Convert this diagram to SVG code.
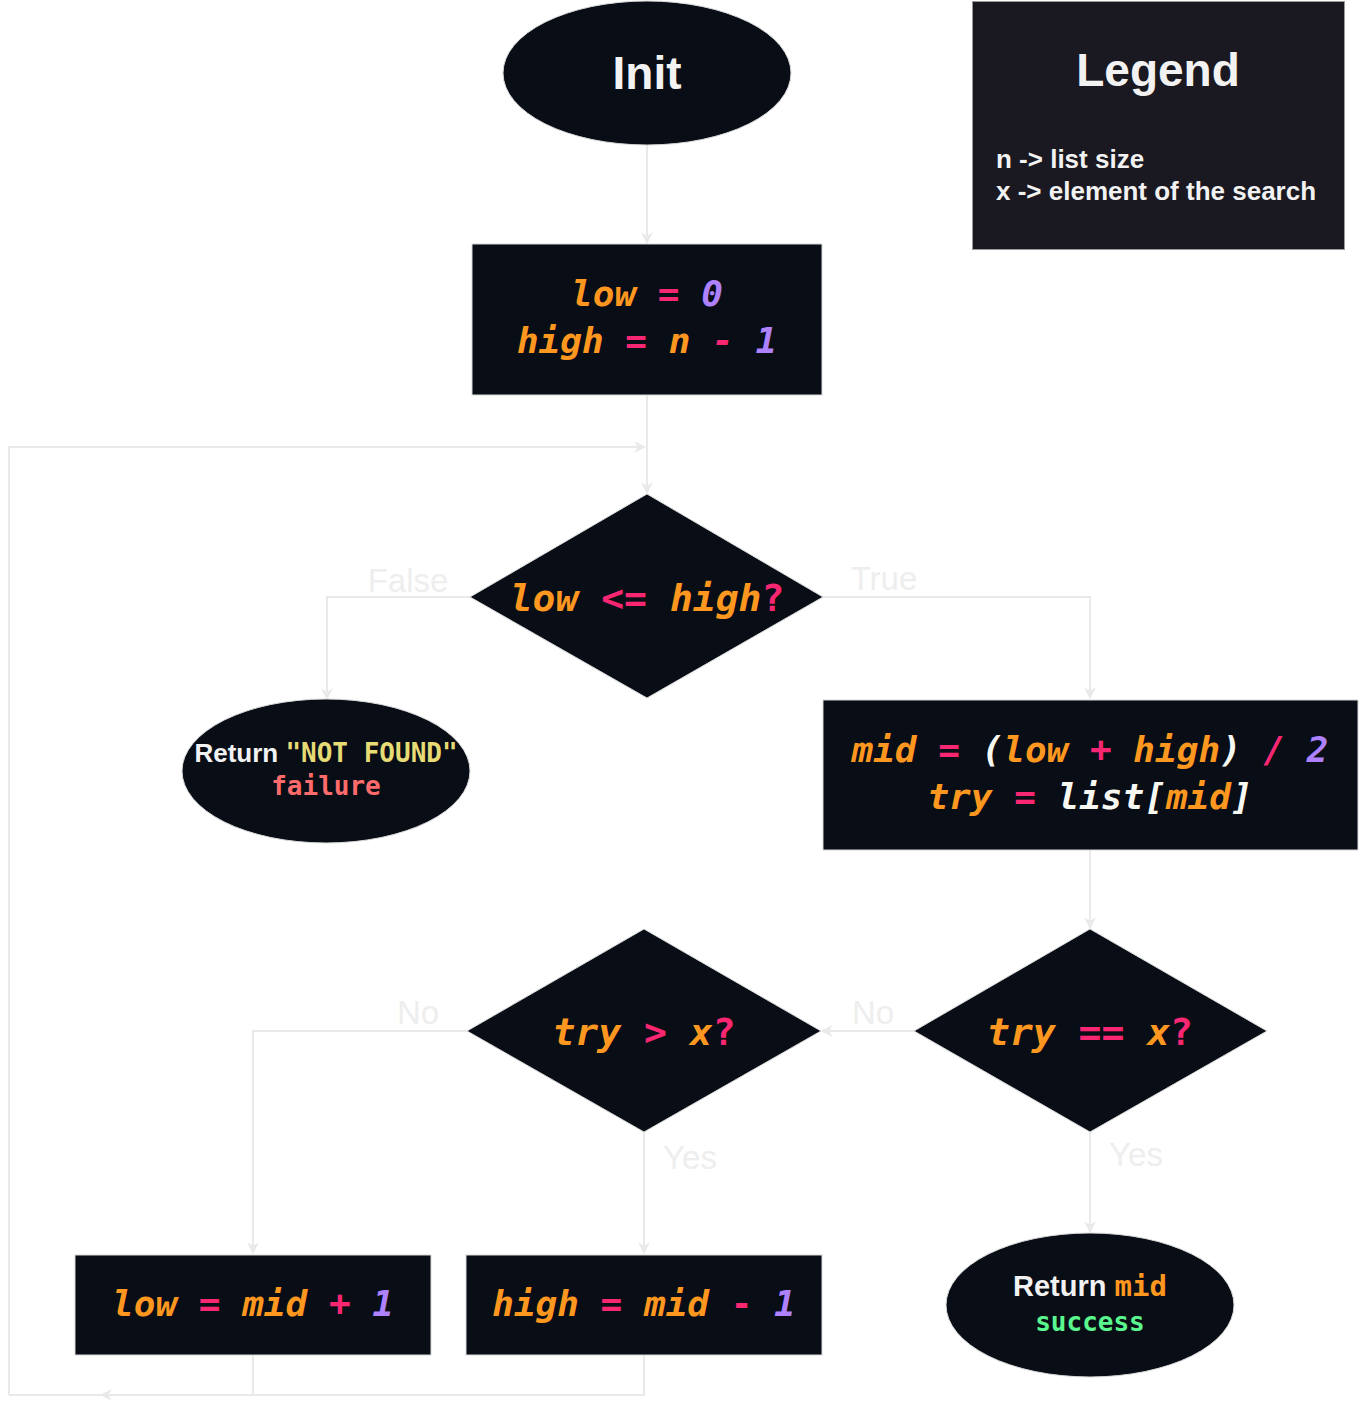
<svg xmlns="http://www.w3.org/2000/svg" width="1360" height="1406" viewBox="0 0 1360 1406">
<style>
.node{fill:#080d16;stroke:#d8d8d8;stroke-width:1}
.code{font-family:"DejaVu Sans Mono",monospace;font-weight:bold;font-style:italic;font-size:36px;text-anchor:middle}
.big{font-size:38px}
.up{font-style:normal}
.mono{font-family:"DejaVu Sans Mono",monospace;font-weight:bold;font-style:normal}
.sans{font-family:"Liberation Sans",Arial,sans-serif;font-weight:bold;fill:#f2f2f2}
.o{fill:#fd971f}.p{fill:#f92672}.v{fill:#ae81ff}.w{fill:#f8f8f2}.y{fill:#e6db74}.r{fill:#ff6b6b}.g{fill:#5af78e}
.edge{fill:none;stroke:#e9e9e9;stroke-width:2}
.lbl{font-family:"Liberation Sans",Arial,sans-serif;font-size:33px;fill:#eeeeee;text-anchor:middle}
</style>
<defs>
<marker id="ah" viewBox="0 0 10 10" refX="9" refY="5" markerWidth="12" markerHeight="12" orient="auto" markerUnits="userSpaceOnUse">
<path d="M0,0 L10,5 L0,10 L3,5 z" fill="#e9e9e9"/>
</marker>
</defs>
<rect width="1360" height="1406" fill="#ffffff"/>
<g id="connectors">
<path class="edge" d="M647,145 V243" marker-end="url(#ah)"/>
<path class="edge" d="M647,395 V493" marker-end="url(#ah)"/>
<path class="edge" d="M9,1395 V447 H645" marker-end="url(#ah)"/>
<path class="edge" d="M470,597 H327 V699" marker-end="url(#ah)"/>
<path class="edge" d="M823,597 H1090 V698" marker-end="url(#ah)"/>
<path class="edge" d="M1090,850 V928" marker-end="url(#ah)"/>
<path class="edge" d="M914,1031 H822" marker-end="url(#ah)"/>
<path class="edge" d="M467,1031 H253 V1253" marker-end="url(#ah)"/>
<path class="edge" d="M644,1132 V1253" marker-end="url(#ah)"/>
<path class="edge" d="M1090,1132 V1232" marker-end="url(#ah)"/>
<path class="edge" d="M253,1355 V1395"/>
<path class="edge" d="M644,1355 V1395 H9"/>
<path class="edge" d="M200,1395 H101" marker-end="url(#ah)"/>
<text class="lbl" x="408" y="592">False</text>
<text class="lbl" x="884" y="590">True</text>
<text class="lbl" x="418" y="1024">No</text>
<text class="lbl" x="873" y="1024">No</text>
<text class="lbl" x="690" y="1169">Yes</text>
<text class="lbl" x="1136" y="1166">Yes</text>
</g>
<g id="init">
<ellipse class="node" cx="647" cy="73" rx="144" ry="72"/>
<text class="sans" x="647" y="89" font-size="46" text-anchor="middle">Init</text>
</g>
<g id="legend">
<rect x="972.5" y="1.5" width="372" height="248" fill="#1a1820" stroke="#999999" stroke-width="1"/>
<text class="sans" x="1158" y="86" font-size="46" text-anchor="middle">Legend</text>
<text class="sans" x="996" y="168" font-size="26">n -&gt; list size</text>
<text class="sans" x="996" y="200" font-size="26">x -&gt; element of the search</text>
</g>
<g id="initvars">
<rect class="node" x="472" y="244" width="350" height="151"/>
<text class="code" x="647" y="306" xml:space="preserve"><tspan class="o">low</tspan> <tspan class="p">=</tspan> <tspan class="v">0</tspan></text>
<text class="code" x="647" y="353" xml:space="preserve"><tspan class="o">high</tspan> <tspan class="p">=</tspan> <tspan class="o">n</tspan> <tspan class="p">-</tspan> <tspan class="v">1</tspan></text>
</g>
<g id="cond">
<polygon class="node" points="647,494 823,597 647,698 470,597"/>
<text class="code big" x="647" y="611" xml:space="preserve"><tspan class="o">low</tspan> <tspan class="p up">&lt;=</tspan> <tspan class="o">high</tspan><tspan class="p up">?</tspan></text>
</g>
<g id="notfound">
<ellipse class="node" cx="326" cy="771" rx="144" ry="72"/>
<text x="326" y="762" text-anchor="middle" xml:space="preserve"><tspan class="sans" font-size="26">Return </tspan><tspan class="mono y" font-size="26">"NOT FOUND"</tspan></text>
<text class="mono r" x="326" y="795" font-size="26" text-anchor="middle">failure</text>
</g>
<g id="midcalc">
<rect class="node" x="823" y="700" width="535" height="150"/>
<text class="code" x="1090" y="762" xml:space="preserve"><tspan class="o">mid</tspan> <tspan class="p up">=</tspan> <tspan class="w">(</tspan><tspan class="o">low</tspan> <tspan class="p up">+</tspan> <tspan class="o">high</tspan><tspan class="w">)</tspan> <tspan class="p">/</tspan> <tspan class="v">2</tspan></text>
<text class="code" x="1090" y="809" xml:space="preserve"><tspan class="o">try</tspan> <tspan class="p up">=</tspan> <tspan class="w">list[</tspan><tspan class="o">mid</tspan><tspan class="w">]</tspan></text>
</g>
<g id="equal">
<polygon class="node" points="1090,929 1267,1031 1090,1132 914,1031"/>
<text class="code big" x="1090" y="1045" xml:space="preserve"><tspan class="o">try</tspan> <tspan class="p up">==</tspan> <tspan class="o">x</tspan><tspan class="p up">?</tspan></text>
</g>
<g id="greater">
<polygon class="node" points="644,929 821,1031 644,1132 467,1031"/>
<text class="code big" x="644" y="1045" xml:space="preserve"><tspan class="o">try</tspan> <tspan class="p up">&gt;</tspan> <tspan class="o">x</tspan><tspan class="p up">?</tspan></text>
</g>
<g id="lowupdate">
<rect class="node" x="75" y="1255" width="356" height="100"/>
<text class="code" x="253" y="1316" xml:space="preserve"><tspan class="o">low</tspan> <tspan class="p up">=</tspan> <tspan class="o">mid</tspan> <tspan class="p up">+</tspan> <tspan class="v">1</tspan></text>
</g>
<g id="highupdate">
<rect class="node" x="466" y="1255" width="356" height="100"/>
<text class="code" x="644" y="1316" xml:space="preserve"><tspan class="o">high</tspan> <tspan class="p up">=</tspan> <tspan class="o">mid</tspan> <tspan class="p up">-</tspan> <tspan class="v">1</tspan></text>
</g>
<g id="success">
<ellipse class="node" cx="1090" cy="1305" rx="144" ry="72"/>
<text x="1090" y="1296" text-anchor="middle" xml:space="preserve"><tspan class="sans" font-size="29">Return </tspan><tspan class="mono o" font-size="29">mid</tspan></text>
<text class="mono g" x="1090" y="1331" font-size="26" text-anchor="middle">success</text>
</g>
</svg>
